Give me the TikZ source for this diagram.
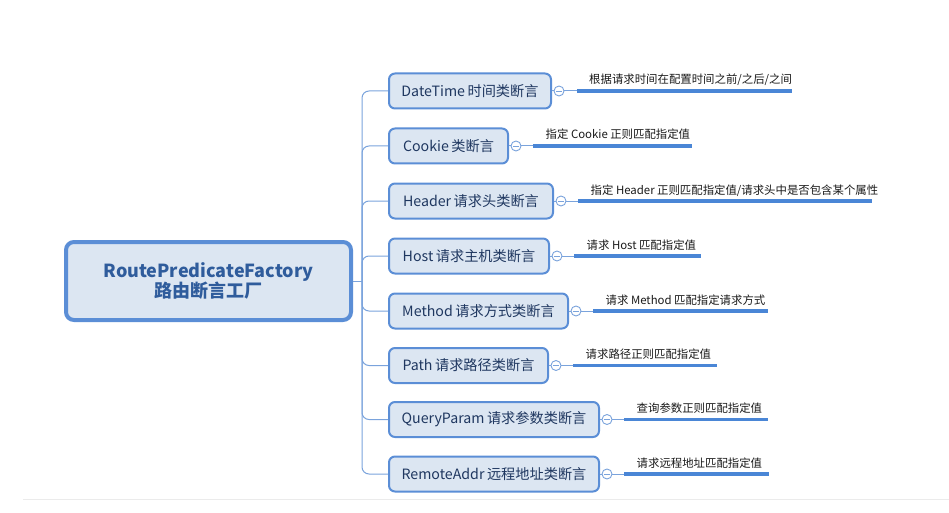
\documentclass[tikz,border=0pt]{standalone}
\usepackage{fontspec}
\setmainfont{Noto Sans CJK SC}
\definecolor{boxfill}{HTML}{DCE6F2}
\definecolor{boxdraw}{HTML}{5B8ED6}
\definecolor{childtxt}{HTML}{1F3760}
\definecolor{roottxt}{HTML}{2F5C9C}
\definecolor{leafblue}{HTML}{4A86D6}
\definecolor{spineblue}{HTML}{7AA3DC}
\definecolor{leaftxt}{HTML}{1A1A1A}
\definecolor{lightrule}{HTML}{EBEBEB}
\newcommand{\gp}{\hspace{2.5pt}}
\tikzset{
  rootbox/.style={draw=boxdraw, line width=4pt, fill=boxfill, rounded corners=8pt,
    minimum width=285pt, minimum height=78pt, align=center, text=roottxt,
    font=\fontsize{18}{20}\selectfont\bfseries, inner sep=0pt},
  childbox/.style={draw=boxdraw, line width=2pt, fill=boxfill, rounded corners=6pt,
    minimum height=35pt, text=childtxt, font=\fontsize{14.2}{16}\selectfont, inner sep=0pt},
  branch/.style={draw=spineblue, line width=1pt, rounded corners=7pt},
  coll/.style={circle, draw=spineblue, fill=white, line width=0.9pt, minimum size=10pt, inner sep=0pt,
    path picture={\draw[spineblue, line width=0.8pt] ([xshift=-2.6pt]path picture bounding box.center) -- ([xshift=2.6pt]path picture bounding box.center);}},
  thinl/.style={draw=spineblue, line width=1pt},
  leafline/.style={draw=leafblue, line width=3.2pt},
  leaftext/.style={anchor=base west, inner sep=0pt, text=leaftxt, font=\fontsize{11.4}{13}\selectfont}
}
\begin{document}
\begin{tikzpicture}[x=1pt,y=-1pt]
\useasboundingbox (0,0) rectangle (949,513);
\coordinate (gl1) at (23,499);
\coordinate (gl2) at (949,499);
\draw[draw=lightrule, line width=1pt] (gl1) -- (gl2);

% root
\node[rootbox] (root) at (208.5,281) {RoutePredicateFactory\\路由断言工厂};
\coordinate (sp) at (362,281);

% children
\node[childbox, minimum width=162pt] (b1) at (470,91) {DateTime\gp 时间类断言};
\node[childbox, minimum width=119pt] (b2) at (448.5,146) {Cookie\gp 类断言};
\node[childbox, minimum width=164pt] (b3) at (471,201) {Header\gp 请求头类断言};
\node[childbox, minimum width=160pt] (b4) at (469,256) {Host\gp 请求主机类断言};
\node[childbox, minimum width=179pt] (b5) at (478.5,311) {Method\gp 请求方式类断言};
\node[childbox, minimum width=159pt] (b6) at (468.5,365.5) {Path\gp 请求路径类断言};
\node[childbox, minimum width=210pt] (b7) at (494,419.5) {QueryParam\gp 请求参数类断言};
\node[childbox, minimum width=210pt] (b8) at (494,474) {RemoteAddr\gp 远程地址类断言};

% branches
\draw[branch] (root.east) -- (sp);
\foreach \k in {1,...,8}{\draw[branch] (sp) |- (b\k.west);}

% collapse circles
\node[coll] (c1) at (559,91) {};
\node[coll] (c2) at (516,146) {};
\node[coll] (c3) at (561,201) {};
\node[coll] (c4) at (557,256) {};
\node[coll] (c5) at (576,311) {};
\node[coll] (c6) at (556,365.5) {};
\node[coll] (c7) at (607,419.5) {};
\node[coll] (c8) at (607,474) {};
\foreach \k in {1,...,8}{\draw[thinl] (b\k.east) -- (c\k.west);}

% leaf lines
\coordinate (s1) at (577,91);    \coordinate (e1) at (792,91);
\coordinate (s2) at (533,146);   \coordinate (e2) at (692,146);
\coordinate (s3) at (578,201);   \coordinate (e3) at (872,201);
\coordinate (s4) at (574,256);   \coordinate (e4) at (701,256);
\coordinate (s5) at (593,311);   \coordinate (e5) at (768,311);
\coordinate (s6) at (573,365.5); \coordinate (e6) at (717,365.5);
\coordinate (s7) at (624,419.5); \coordinate (e7) at (768,419.5);
\coordinate (s8) at (624,474);   \coordinate (e8) at (769,474);
\foreach \k in {1,...,8}{
  \draw[thinl] (c\k.east) -- (s\k);
  \draw[leafline] (s\k) -- (e\k);
}

% leaf texts
\node[leaftext] (t1) at (589,84) {根据请求时间在配置时间之前/之后/之间};
\node[leaftext] (t2) at (545.5,139) {指定\gp Cookie\gp 正则匹配指定值};
\node[leaftext] (t3) at (590.5,194) {指定\gp Header\gp 正则匹配指定值/请求头中是否包含某个属性};
\node[leaftext] (t4) at (586.5,249) {请求\gp Host\gp 匹配指定值};
\node[leaftext] (t5) at (605.5,304) {请求\gp Method\gp 匹配指定请求方式};
\node[leaftext] (t6) at (585.5,358.5) {请求路径正则匹配指定值};
\node[leaftext] (t7) at (636.5,412.5) {查询参数正则匹配指定值};
\node[leaftext] (t8) at (636.5,467) {请求远程地址匹配指定值};
\end{tikzpicture}
\end{document}
